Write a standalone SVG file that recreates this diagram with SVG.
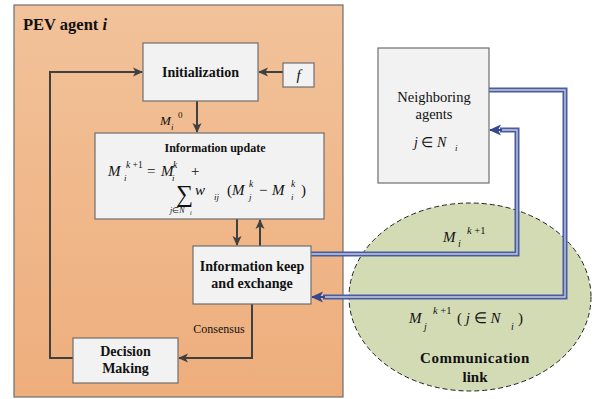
<svg xmlns="http://www.w3.org/2000/svg" width="597" height="399" viewBox="0 0 597 399" font-family="'Liberation Serif', 'Times New Roman', serif">
<defs>
<linearGradient id="pg" x1="0" y1="0" x2="0" y2="1">
<stop offset="0" stop-color="#F2C29A"/>
<stop offset="1" stop-color="#EEAE7C"/>
</linearGradient>
<marker id="ah" markerWidth="10" markerHeight="10" refX="9" refY="5" orient="auto" markerUnits="userSpaceOnUse">
<path d="M0,0.5 L10,5 L0,9.5 L2.5,5 Z" fill="#404040"/>
</marker>
<marker id="bh" markerWidth="12" markerHeight="12" refX="11" refY="6" orient="auto" markerUnits="userSpaceOnUse">
<path d="M0,0.5 L12,6 L0,11.5 L3,6 Z" fill="#34488F"/>
</marker>
</defs>
<style>
.box{fill:#F2F2F2;stroke:#6E6E6E;stroke-width:1.2}
.t{font-family:'Liberation Serif','Times New Roman',serif;fill:#111}
.b{font-weight:bold}
.m{font-style:italic}
.c{stroke:#404040;stroke-width:2;fill:none}
.bo{stroke:#4A5C9E;stroke-width:5;fill:none}
.bi{stroke:#C3CAE4;stroke-width:1.4;fill:none}
</style>
<g id="panel">
<rect x="14" y="5" width="329" height="392" fill="url(#pg)" stroke="#6E6E6E" stroke-width="1.2"/>
<text class="t b" x="23" y="30" font-size="16.5">PEV agent <tspan class="m">i</tspan></text>
</g>
<g id="comm">
<ellipse cx="470" cy="297" rx="121" ry="94" fill="#D3DBB5" stroke="#222" stroke-width="1" stroke-dasharray="5,3"/>
<text class="t b" x="475" y="363" font-size="15" text-anchor="middle" letter-spacing="0.5">Communication</text>
<text class="t b" x="475" y="382" font-size="15" text-anchor="middle">link</text>
</g>
<g id="connectors">
<line class="c" x1="283" y1="72" x2="259" y2="72" marker-end="url(#ah)"/>
<polyline class="c" points="73,358 50,358 50,72 142,72" marker-end="url(#ah)"/>
<line class="c" x1="197" y1="101" x2="197" y2="132" marker-end="url(#ah)"/>
<line class="c" x1="237" y1="219" x2="237" y2="245" marker-end="url(#ah)"/>
<line class="c" x1="260" y1="246" x2="260" y2="220" marker-end="url(#ah)"/>
<polyline class="c" points="252,304 252,358 179,358" marker-end="url(#ah)"/>
<polyline class="bo" points="311,254 517,254 517,130 500,130"/>
<polyline class="bi" points="311,254 517,254 517,130 500,130"/>
<line x1="502" y1="130" x2="490" y2="130" stroke="#34488F" stroke-width="2" marker-end="url(#bh)"/>
<polyline class="bo" points="489,90 565,90 565,297 323,297"/>
<polyline class="bi" points="489,90 565,90 565,297 323,297"/>
<line x1="325" y1="297" x2="312" y2="297" stroke="#34488F" stroke-width="2" marker-end="url(#bh)"/>
<text class="t m" x="160" y="125" font-size="13">M</text>
<text class="t m" x="171" y="130" font-size="9">i</text>
<text class="t" x="178" y="118" font-size="9">0</text>
<text class="t" x="219" y="333" font-size="12" text-anchor="middle">Consensus</text>
<text class="t m" x="443" y="242" font-size="15">M</text>
<text class="t m" x="458" y="247" font-size="10">i</text>
<text class="t m" x="467" y="234" font-size="10.5">k <tspan font-style="normal">+1</tspan></text>
<text class="t m" x="409" y="323" font-size="15">M</text>
<text class="t m" x="424" y="330" font-size="10">j</text>
<text class="t m" x="433" y="314" font-size="10.5">k <tspan font-style="normal">+1</tspan></text>
<text class="t" x="457" y="323" font-size="15">( <tspan class="m">j</tspan> ∈ <tspan class="m">N</tspan></text>
<text class="t m" x="511" y="330" font-size="10">i</text>
<text class="t" x="518" y="323" font-size="15">)</text>
</g>
<g id="init">
<rect class="box" x="143" y="43" width="115" height="58"/>
<text class="t b" x="200.5" y="77" font-size="14" text-anchor="middle">Initialization</text>
</g>
<g id="f">
<rect class="box" x="283" y="63" width="31" height="24"/>
<text class="t m" x="298.5" y="80" font-size="15" text-anchor="middle">f</text>
</g>
<g id="update">
<rect class="box" x="95" y="133" width="229" height="86"/>
<text class="t b" x="215" y="152" font-size="12" text-anchor="middle">Information update</text>
<text class="t m" x="108" y="176" font-size="15">M</text>
<text class="t m" x="124" y="181" font-size="9">i</text>
<text class="t m" x="126" y="168" font-size="9.5">k <tspan font-style="normal">+1</tspan></text>
<text class="t" x="147" y="176" font-size="15">=</text>
<text class="t m" x="161" y="176" font-size="15">M</text>
<text class="t m" x="172" y="181" font-size="9">i</text>
<text class="t m" x="173" y="168" font-size="9.5">k</text>
<text class="t" x="191" y="176" font-size="15">+</text>
<text class="t" x="176" y="202" font-size="24">∑</text>
<text class="t m" x="170" y="213" font-size="8">j<tspan font-style="normal">∈</tspan>N</text>
<text class="t m" x="190" y="215" font-size="6">i</text>
<text class="t m" x="195" y="195" font-size="15">w</text>
<text class="t m" x="214" y="200" font-size="9">ij</text>
<text class="t" x="227" y="195" font-size="15">(</text>
<text class="t m" x="232" y="195" font-size="15">M</text>
<text class="t m" x="249" y="200" font-size="9">j</text>
<text class="t m" x="249" y="187" font-size="9.5">k</text>
<text class="t" x="259" y="195" font-size="15">−</text>
<text class="t m" x="272" y="195" font-size="15">M</text>
<text class="t m" x="291" y="200" font-size="9">i</text>
<text class="t m" x="291" y="187" font-size="9.5">k</text>
<text class="t" x="301" y="195" font-size="15">)</text>
</g>
<g id="keep">
<rect class="box" x="193" y="246" width="118" height="58"/>
<text class="t b" x="252" y="271" font-size="14" text-anchor="middle">Information keep</text>
<text class="t b" x="252" y="288" font-size="14" text-anchor="middle">and exchange</text>
</g>
<g id="decision">
<rect class="box" x="73" y="338" width="105" height="45"/>
<text class="t b" x="125.5" y="356" font-size="14" text-anchor="middle">Decision</text>
<text class="t b" x="125.5" y="373" font-size="14" text-anchor="middle">Making</text>
</g>
<g id="neighbors">
<rect class="box" x="378" y="48" width="111" height="135"/>
<text class="t" x="434" y="102" font-size="14.5" text-anchor="middle">Neighboring</text>
<text class="t" x="434" y="119" font-size="14.5" text-anchor="middle">agents</text>
<text class="t m" x="414" y="147" font-size="14">j <tspan font-style="normal">∈</tspan> N</text>
<text class="t m" x="455" y="151" font-size="9">i</text>
</g>
</svg>
